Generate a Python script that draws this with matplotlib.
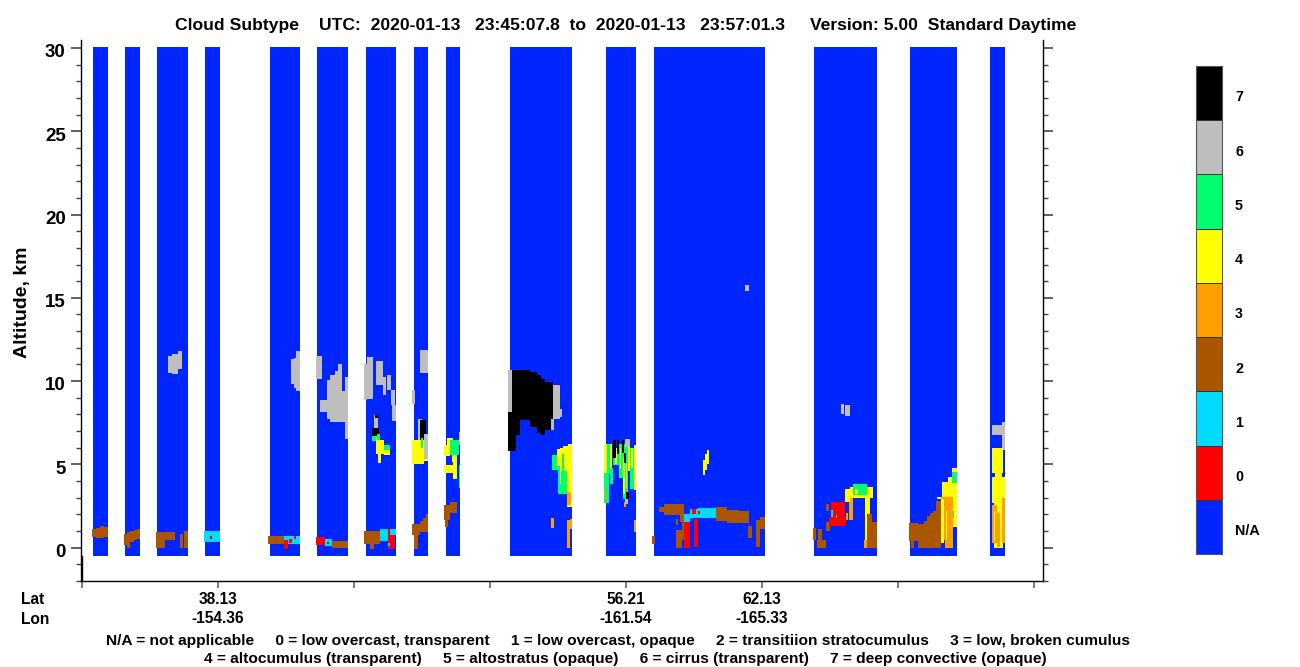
import numpy as np
import matplotlib
matplotlib.use('Agg')
import matplotlib.pyplot as plt
from matplotlib.colors import ListedColormap
from matplotlib.transforms import ScaledTranslation

plt.rcParams['font.family'] = ['Liberation Sans', 'DejaVu Sans']
plt.rcParams['font.weight'] = 'bold'

# N/A, 0..7
cores = ['#0025ff', '#ff0000', '#00dcff', '#aa5500', '#ff9f00', '#ffff00', '#00ff6e', '#bebebe', '#000000']
rotulos_cor = ['N/A', '0', '1', '2', '3', '4', '5', '6', '7']

# profiles with data (start, end)
faixas = [(11, 26), (43, 58), (75, 106), (123, 138), (188, 218), (235, 266), (284, 314),
          (332, 346), (364, 378), (428, 490), (524, 554), (572, 683), (732, 795), (828, 875), (908, 923)]
alt_min = -0.51
alt_max = 30.06

# cloud blocks: subtype, first profile, last profile, bottom km, top km
# drawn in the order listed, later ones cover earlier ones
nuvens_a = [
    (2, 10, 14, 0.65, 1.1), (2, 14, 18, 0.6, 1.2), (2, 18, 22, 0.6, 1.28), (2, 22, 26, 0.64, 1.25),
    (2, 42, 45, 0.15, 0.8), (2, 45, 48, 0.0, 0.95), (2, 48, 52, 0.35, 0.98), (2, 52, 55, 0.44, 1.05), (2, 55, 58, 0.5, 1.1),
    (2, 74, 83, 0.0, 0.96), (2, 83, 93, 0.44, 0.96), (2, 98, 101, 0.0, 0.85), (2, 102, 106, 0.0, 0.98),
    (1, 122, 138, 0.34, 0.98), (0, 128, 130, 0.55, 0.72),
    (6, 86, 90, 10.5, 11.5), (6, 90, 96, 10.44, 11.6), (6, 96, 100, 10.7, 11.78),
    (2, 186, 202, 0.2, 0.72), (1, 202, 218, 0.24, 0.72), (0, 202, 206, -0.08, 0.44), (0, 207, 210, 0.3, 0.55), (0, 212, 214, 0.55, 0.72),
    (6, 209, 212, 9.84, 11.34), (6, 212, 214, 9.6, 11.4), (6, 214, 218, 9.4, 11.8),
    (6, 234, 240, 10.12, 11.48),
    (6, 238, 245, 8.14, 8.84), (6, 245, 248, 7.74, 10.04), (6, 248, 253, 7.54, 10.34), (6, 253, 256, 7.54, 10.6),
    (6, 256, 260, 7.54, 11.04), (6, 260, 263, 7.54, 9.4), (6, 263, 266, 6.54, 10.24),
    (2, 250, 266, -0.04, 0.4), (0, 234, 243, 0.14, 0.64), (1, 243, 250, 0.1, 0.5), (0, 245, 247, 0.2, 0.35),
]
nuvens_b = [
    (6, 282, 285, 8.84, 11.0), (6, 285, 291, 8.9, 11.44),
    (6, 294, 301, 9.74, 11.2), (6, 301, 304, 9.14, 10.24), (6, 305, 309, 9.48, 10.34),
    (6, 309, 313, 8.54, 9.48), (6, 310, 314, 7.6, 8.54),
    (6, 292, 296, 6.44, 7.94), (7, 293, 296, 7.8, 7.94), (5, 290, 294, 6.4, 6.84), (7, 290, 297, 6.7, 7.2), (5, 295, 298, 6.3, 6.8),
    (4, 294, 302, 5.64, 6.44), (4, 296, 299, 5.08, 5.64), (4, 302, 308, 5.54, 6.0), (5, 302, 308, 5.88, 6.14),
    (2, 282, 298, 0.2, 1.0), (2, 288, 292, -0.1, 0.3), (1, 298, 306, 0.4, 1.14), (0, 306, 313, -0.06, 1.14), (1, 308, 314, 0.74, 1.14), (1, 306, 308, 0.1, 0.3),
    (6, 330, 333, 8.6, 9.48), (6, 338, 346, 10.48, 11.88),
    (6, 336, 340, 6.44, 7.74), (7, 338, 344, 6.44, 7.64), (6, 342, 346, 5.34, 6.8),
    (4, 330, 342, 5.0, 6.48), (4, 342, 346, 5.2, 5.34), (5, 339, 341, 6.0, 6.6),
    (2, 330, 338, 0.74, 1.44), (2, 332, 336, -0.05, 0.74), (2, 338, 341, 0.94, 1.6), (2, 341, 344, 0.94, 1.8), (2, 344, 346, 0.94, 2.0),
    (2, 362, 368, 1.64, 2.54), (2, 363, 366, 1.24, 1.64), (2, 368, 375, 2.08, 2.76),
    (4, 362, 368, 5.48, 6.14), (4, 365, 371, 6.04, 6.6), (4, 370, 375, 5.14, 6.04), (5, 368, 377, 5.54, 6.44),
    (4, 362, 373, 4.5, 4.94), (4, 371, 375, 4.1, 5.14), (5, 377, 378, 3.58, 4.94), (6, 377, 378, 6.14, 6.94),
]
nuvens_c = [
    (6, 426, 430, 8.04, 10.64),
    (7, 426, 434, 5.78, 8.14), (7, 430, 438, 6.74, 10.64), (7, 438, 448, 7.64, 10.68),
    (7, 448, 455, 7.24, 10.54), (7, 455, 459, 6.9, 10.34), (7, 459, 463, 6.74, 10.1), (7, 463, 471, 7.08, 9.94),
    (6, 469, 472, 7.04, 7.74), (6, 471, 478, 7.74, 9.74), (6, 478, 480, 7.84, 8.34),
    (5, 470, 476, 4.64, 5.54), (5, 476, 485, 3.24, 5.44), (5, 485, 490, 3.24, 4.4),
    (4, 475, 478, 4.9, 5.9), (4, 478, 481, 4.6, 6.0), (4, 481, 486, 4.6, 6.1), (4, 486, 490, 4.4, 6.2),
    (4, 485, 490, 2.44, 4.84), (4, 478, 479, 3.8, 5.0), (5, 480, 482, 4.3, 5.6), (3, 485, 489, 2.54, 3.34),
    (3, 469, 472, 1.2, 1.78), (3, 485, 488, 0.0, 1.64), (3, 488, 490, 1.14, 1.74),
    (5, 522, 527, 2.68, 4.84), (4, 522, 525, 4.5, 6.2), (5, 525, 528, 4.4, 6.2), (4, 528, 530, 4.0, 6.24),
    (5, 528, 531, 3.84, 4.8), (5, 531, 537, 4.94, 5.7), (4, 533, 535, 5.0, 6.0),
    (7, 531, 534, 5.4, 6.44), (7, 535, 537, 5.6, 6.44),
    (5, 537, 541, 4.2, 6.2), (4, 538, 539, 4.7, 6.0), (5, 541, 546, 2.94, 6.2), (4, 541, 543, 3.2, 5.4),
    (4, 544, 545, 3.6, 5.0), (7, 542, 544, 5.1, 5.7), (7, 540, 542, 5.7, 6.44), (4, 546, 548, 4.6, 6.2),
    (5, 548, 552, 3.5, 6.0), (4, 552, 554, 3.44, 6.14), (4, 549, 551, 4.8, 6.0),
    (6, 543, 548, 6.04, 6.5), (7, 544, 547, 2.94, 3.34),
    (6, 543, 546, 2.64, 2.94), (3, 542, 544, 2.44, 2.74), (3, 552, 554, 0.94, 1.64), (3, 522, 523, 2.84, 3.54),
    (4, 621, 623, 4.34, 5.24), (4, 623, 625, 4.64, 5.64), (4, 625, 627, 5.04, 5.84),
    (6, 663, 667, 15.4, 15.77),
    (2, 570, 573, 0.2, 0.68), (2, 577, 582, 2.14, 2.44), (2, 582, 598, 1.94, 2.6), (2, 598, 602, 1.54, 2.6),
    (2, 594, 600, 0.0, 1.04), (2, 594, 596, 1.34, 1.7), (2, 600, 602, 0.44, 1.54),
    (0, 602, 608, 0.0, 1.54), (0, 612, 616, 0.04, 1.74),
    (1, 602, 608, 1.54, 2.0), (1, 608, 616, 1.8, 2.3), (1, 616, 634, 1.8, 2.4), (0, 610, 614, 2.0, 2.3), (0, 616, 618, 2.0, 2.2),
    (2, 634, 645, 1.6, 2.45), (2, 645, 657, 1.5, 2.25), (2, 657, 667, 1.5, 2.2),
    (2, 666, 670, 0.58, 1.28), (2, 674, 678, 0.04, 1.64), (2, 678, 683, 1.14, 1.84),
]
nuvens_d = [
    (6, 759, 762, 8.02, 8.62), (6, 763, 768, 7.9, 8.56),
    (2, 731, 734, 0.46, 1.18), (2, 736, 740, 0.46, 1.1), (2, 735, 744, 0.0, 0.46),
    (2, 744, 747, 2.22, 2.62), (2, 744, 748, 1.02, 1.56),
    (0, 747, 764, 1.32, 1.86), (0, 749, 763, 1.86, 2.76), (1, 749, 751, 1.86, 2.26), (1, 754, 755, 1.76, 1.96),
    (3, 764, 766, 1.66, 2.06), (3, 767, 771, 1.66, 2.96),
    (4, 763, 768, 2.76, 3.5), (4, 768, 791, 2.96, 3.62), (5, 771, 785, 3.16, 3.8), (4, 773, 776, 3.2, 3.5),
    (4, 783, 785, 0.0, 3.06), (4, 785, 788, 2.0, 3.06),
    (2, 785, 790, 0.9, 2.0), (2, 790, 795, 0.0, 1.52), (2, 785, 790, 0.0, 0.9), (3, 782, 785, 0.0, 0.46),
    (2, 827, 836, 0.4, 1.46), (2, 829, 832, 0.0, 0.4), (2, 836, 842, 0.0, 1.4), (2, 842, 845, 0.0, 1.6),
    (2, 845, 848, 0.0, 1.9), (2, 848, 851, 0.0, 2.1), (2, 851, 854, 0.0, 2.2), (2, 854, 859, 0.0, 2.8),
    (4, 855, 860, 2.9, 3.06), (4, 860, 866, 2.9, 3.96), (4, 866, 870, 2.9, 4.26), (4, 870, 875, 2.9, 4.76),
    (3, 859, 871, 0.46, 3.06), (3, 863, 871, 0.0, 0.46), (4, 859, 862, 0.3, 2.9), (4, 864, 865, 0.5, 2.2),
    (4, 871, 875, 1.26, 3.06), (5, 870, 875, 3.86, 4.56), (5, 871, 872, 1.8, 2.2),
    (6, 910, 923, 6.76, 7.36), (6, 920, 923, 5.86, 7.56),
    (4, 910, 921, 4.46, 5.96), (4, 913, 920, 4.06, 4.46), (4, 910, 923, 2.66, 4.26), (4, 912, 921, 0.0, 2.66),
    (3, 910, 915, 0.26, 2.56), (3, 920, 923, 0.26, 3.0), (3, 915, 918, 0.06, 2.1), (4, 912, 913, 0.4, 2.2),
]

yticks_major = [0, 5, 10, 15, 20, 25, 30]
xticks_pos = [0, 136, 272, 408, 544, 680, 816, 952]
xticks_lab = ['', '38.13\n-154.36', '', '', '56.21\n-161.54', '62.13\n-165.33', '', '']

titulo_a = 'Cloud Subtype'
titulo_b = 'UTC:  2020-01-13   23:45:07.8  to  2020-01-13   23:57:01.3'
titulo_c = 'Version: 5.00  Standard Daytime'
legenda1 = 'N/A = not applicable     0 = low overcast, transparent     1 = low overcast, opaque     2 = transitiion stratocumulus     3 = low, broken cumulus'
legenda2 = '4 = altocumulus (transparent)     5 = altostratus (opaque)     6 = cirrus (transparent)     7 = deep convective (opaque)'

fig = plt.figure(figsize=(13, 6.67), dpi=100)
ax = fig.add_axes([81/1300, (667-581)/667, (1043-81)/1300, (581-40)/667])
ax.set_xlim(-1, 961)
ax.set_ylim(-2, 30.48)

for ini, fim in faixas:
    ax.bar(ini, alt_max-alt_min, width=fim-ini, bottom=alt_min, align='edge', color=cores[0], lw=0, antialiased=False)

for bloco in nuvens_a + nuvens_b + nuvens_c + nuvens_d:
    tipo, x0, x1, z0, z1 = bloco
    ax.bar(x0, z1-z0, width=x1-x0, bottom=z0, align='edge', color=cores[tipo+1], lw=0, antialiased=False, zorder=3)

# short line at the first record, below the data
ax.plot([0, 0], [-2, alt_min], color='black', lw=1)

ax.spines['top'].set_visible(False)
ax.yaxis.set_ticks_position('both')
ax.set_yticks(yticks_major)
ax.set_yticks(np.arange(-2, 31), minor=True)
ax.tick_params(axis='y', which='major', length=7, width=1.2, color='#444444', labelsize=13.5, pad=4)
ax.tick_params(axis='y', which='minor', length=3.3, width=1, color='#444444')
ax.tick_params(axis='y', which='both', right=True, direction='out')
desloca = ScaledTranslation(0, -2/72, fig.dpi_scale_trans)
for rot in ax.get_yticklabels():
    rot.set_transform(rot.get_transform() + desloca)
ax.set_xticks(xticks_pos)
ax.set_xticklabels(xticks_lab, fontsize=11.2, linespacing=1.34)
ax.tick_params(axis='x', length=5, width=1.2, color='#666666', pad=2.7)
for nome in ['left', 'bottom', 'right']:
    ax.spines[nome].set_linewidth(1.0)

fig.text(23/1300, 1-302/667, 'Altitude, km', rotation=90, ha='center', va='center', fontsize=14)
fig.text(175/1300, 1-25.5/667, titulo_a, ha='left', va='center', fontsize=12.6)
fig.text(319/1300, 1-25.5/667, titulo_b, ha='left', va='center', fontsize=12.6)
fig.text(810/1300, 1-25.5/667, titulo_c, ha='left', va='center', fontsize=12.6)
fig.text(21/1300, 1-600/667, 'Lat', ha='left', va='center', fontsize=11.2)
fig.text(21/1300, 1-620/667, 'Lon', ha='left', va='center', fontsize=11.2)
fig.text(617.5/1300, 1-640.5/667, legenda1, ha='center', va='center', fontsize=11.15)
fig.text(625.5/1300, 1-658.5/667, legenda2, ha='center', va='center', fontsize=11.15)

# colour key
cax = fig.add_axes([1196/1300, (667-554)/667, 26/1300, (554-66)/667])
cax.pcolormesh(np.arange(9).reshape(9, 1), cmap=ListedColormap(cores), vmin=0, vmax=8, edgecolors='#333333', linewidth=0.7)
cax.set_xticks([])
cax.set_yticks([])
for s in cax.spines.values():
    s.set_color('#555555')
for i, r in enumerate(rotulos_cor):
    cax.text(1.5, i+0.42, r, ha='left', va='center', fontsize=10.3, clip_on=False)

fig.savefig('out.png', dpi=100)
